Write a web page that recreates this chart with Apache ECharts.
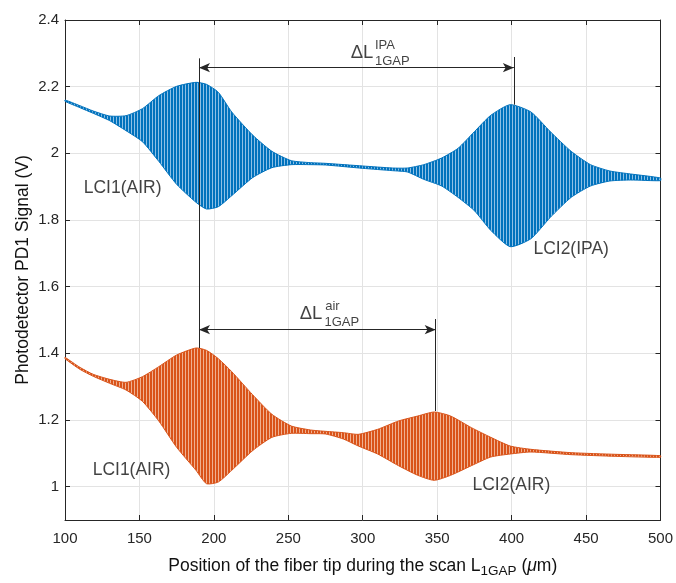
<!DOCTYPE html>
<html>
<head>
<meta charset="utf-8">
<script src="https://cdn.jsdelivr.net/npm/echarts@6/dist/echarts.min.js"></script>
<style>
  html, body { margin: 0; padding: 0; background: #fff; }
  #chart { width: 676px; height: 583px; }
</style>
</head>
<body>
<div id="chart"></div>
<script>
// envelope of the IPA scan (blue): scan position (um), upper / lower signal (V)
const posIPA = [100, 110, 119, 130, 141, 152, 163, 175, 188, 195, 203, 212, 226, 239, 252, 265, 275, 300, 320, 330,
  341, 353, 364, 375, 386, 399, 413, 426, 440, 453, 466, 480, 500];
const ipaUpper = [2.160, 2.143, 2.127, 2.112, 2.113, 2.134, 2.173, 2.201, 2.213, 2.207, 2.183, 2.124, 2.055, 2.006, 1.978, 1.972, 1.970, 1.962, 1.956, 1.956,
  1.966, 1.986, 2.015, 2.065, 2.114, 2.146, 2.124, 2.065, 2.006, 1.966, 1.947, 1.938, 1.926];
const ipaLower = [2.156, 2.137, 2.120, 2.098, 2.068, 2.035, 1.976, 1.907, 1.853, 1.833, 1.840, 1.873, 1.927, 1.957, 1.966, 1.966, 1.965, 1.955, 1.948, 1.944,
  1.922, 1.902, 1.868, 1.828, 1.769, 1.720, 1.744, 1.808, 1.868, 1.902, 1.917, 1.920, 1.918];

// envelope of the air scan (orange)
const posAir = [100, 110, 119, 130, 141, 152, 163, 175, 188, 195, 203, 212, 226, 239, 252, 265, 275, 287, 297, 310,
  324, 337, 348, 359, 373, 386, 399, 413, 440, 470, 500];
const airUpper = [1.388, 1.358, 1.337, 1.322, 1.313, 1.330, 1.360, 1.395, 1.416, 1.409, 1.384, 1.345, 1.276, 1.217, 1.182, 1.170, 1.166, 1.162, 1.157, 1.172,
  1.197, 1.212, 1.224, 1.212, 1.177, 1.148, 1.122, 1.112, 1.102, 1.097, 1.093];
const airLower = [1.384, 1.352, 1.331, 1.310, 1.290, 1.256, 1.197, 1.118, 1.049, 1.009, 1.014, 1.049, 1.108, 1.148, 1.160, 1.159, 1.158, 1.143, 1.122, 1.098,
  1.063, 1.034, 1.019, 1.034, 1.063, 1.089, 1.098, 1.104, 1.096, 1.091, 1.088];

// peak markers and gap arrows
const lci1Pos = 190;
const lci2IPAPos = 401.5;
const lci2AirPos = 349;
const arrowIPAy = 2.257;
const arrowAiry = 1.471;

// text labels: [x, y, text]
const peakLabels = [
  [138.7, 1.894, 'LCI1(AIR)'],
  [440, 1.711, 'LCI2(IPA)'],
  [144.7, 1.048, 'LCI1(AIR)'],
  [399.8, 1.004, 'LCI2(AIR)']
];

const BLUE = '#0072BD', BLUE_LIGHT = '#8cc0e6';
const ORANGE = '#D95319', ORANGE_LIGHT = '#f0b090';
const INK = '#262626';
const TXT = '#111111';
const FONT = '"Liberation Sans", Arial, Helvetica, sans-serif';

// vertical stripes standing in for the fringes
function stripes(dark, light) {
  const c = document.createElement('canvas');
  c.width = 3; c.height = 4;
  const g = c.getContext('2d');
  g.fillStyle = dark; g.fillRect(0, 0, 2, 4);
  g.fillStyle = light; g.fillRect(2, 0, 1, 4);
  return { image: c, repeat: 'repeat' };
}

function bandSeries(name, xs, upper, lower, dark, light) {
  const fill = stripes(dark, light);
  return {
    type: 'custom',
    name: name,
    data: [[xs[0], upper[0]]],
    silent: true,
    z: 3,
    renderItem: function (params, api) {
      const top = xs.map((x, i) => api.coord([x, upper[i]]));
      const bot = xs.map((x, i) => api.coord([x, lower[i]])).reverse();
      return {
        type: 'polygon',
        shape: { points: top.concat(bot), smooth: 0.2 },
        style: { fill: fill, stroke: dark, lineWidth: 1 }
      };
    }
  };
}

const chart = echarts.init(document.getElementById('chart'), null, { renderer: 'canvas' });

const axisLine = { show: true, onZero: false, lineStyle: { color: INK, width: 1 } };
const tickIn = { show: true, inside: true, length: 5, lineStyle: { color: INK } };
const gridLine = { show: true, lineStyle: { color: '#e3e3e3', width: 1 } };

const labelData = peakLabels.map(p => ({ value: [p[0], p[1]], label: { formatter: p[2] } }));
const supSub = { position: 'right', distance: 0, fontSize: 13 };
const deltaLabels = [
  { value: [299.5, 2.301], label: { formatter: 'ΔL', fontSize: 18.5 } },
  { value: [308.2, 2.325], label: Object.assign({ formatter: 'IPA' }, supSub) },
  { value: [308.2, 2.276], label: Object.assign({ formatter: '1GAP' }, supSub) },
  { value: [265.3, 1.517], label: { formatter: 'ΔL', fontSize: 18.5 } },
  { value: [274.8, 1.541], label: Object.assign({ formatter: 'air' }, supSub) },
  { value: [274.3, 1.492], label: Object.assign({ formatter: '1GAP' }, supSub) }
];

chart.setOption({
  animation: false,
  backgroundColor: '#fff',
  grid: { left: 65, right: 12, top: 20, bottom: 56, containLabel: false },
  xAxis: [{
    type: 'value', min: 100, max: 500, interval: 50, position: 'bottom',
    name: 'Position of the fiber tip during the scan L{sub|1GAP} ({mu|μ}m)',
    nameLocation: 'middle', nameGap: 35,
    nameTextStyle: {
      color: TXT, fontSize: 17.5, fontFamily: FONT,
      rich: {
        sub: { fontSize: 13.5, fontFamily: FONT, color: TXT, verticalAlign: 'bottom', padding: [9, 0, 0, 0] },
        mu: { fontSize: 17.5, fontFamily: FONT, color: TXT, fontStyle: 'italic' }
      }
    },
    axisLine: axisLine, axisTick: tickIn,
    axisLabel: { color: INK, fontSize: 15, fontFamily: FONT, margin: 11 },
    splitLine: gridLine
  }, {
    type: 'value', min: 100, max: 500, interval: 50, position: 'top',
    axisLine: axisLine, axisTick: tickIn, axisLabel: { show: false }, splitLine: { show: false }
  }],
  yAxis: [{
    type: 'value', min: 0.9, max: 2.4, splitNumber: 7, position: 'left',
    name: 'Photodetector PD1 Signal (V)', nameLocation: 'middle', nameGap: 33,
    nameMoveOverlap: false,
    nameTextStyle: { color: TXT, fontSize: 17.5, fontFamily: FONT },
    axisLine: axisLine, axisTick: tickIn,
    axisLabel: { color: INK, fontSize: 15, fontFamily: FONT, margin: 6, showMinLabel: false },
    splitLine: gridLine
  }, {
    type: 'value', min: 0.9, max: 2.4, splitNumber: 7, position: 'right',
    axisLine: axisLine, axisTick: tickIn, axisLabel: { show: false }, splitLine: { show: false }
  }],
  series: [
    bandSeries('IPA', posIPA, ipaUpper, ipaLower, BLUE, BLUE_LIGHT),
    bandSeries('AIR', posAir, airUpper, airLower, ORANGE, ORANGE_LIGHT),
    {
      type: 'scatter',
      name: 'labels',
      symbolSize: 0,
      silent: true,
      z: 5,
      data: labelData.concat(deltaLabels),
      label: {
        show: true, position: 'inside', color: TXT, fontSize: 17.5, fontFamily: FONT
      },
      markLine: {
        silent: true,
        animation: false,
        label: { show: false },
        lineStyle: { color: INK, width: 1, type: 'solid' },
        symbol: ['none', 'none'],
        data: [
          [{ coord: [lci1Pos, 2.285] }, { coord: [lci1Pos, 1.416] }],
          [{ coord: [lci2IPAPos, 2.289] }, { coord: [lci2IPAPos, 2.146] }],
          [{ coord: [lci2AirPos, 1.503] }, { coord: [lci2AirPos, 1.227] }],
          [{ coord: [lci1Pos, arrowIPAy], symbol: 'arrow', symbolSize: [7, 11] },
           { coord: [lci2IPAPos, arrowIPAy], symbol: 'arrow', symbolSize: [7, 11] }],
          [{ coord: [lci1Pos, arrowAiry], symbol: 'arrow', symbolSize: [7, 11] },
           { coord: [lci2AirPos, arrowAiry], symbol: 'arrow', symbolSize: [7, 11] }]
        ]
      }
    }
  ]
});
</script>
</body>
</html>
